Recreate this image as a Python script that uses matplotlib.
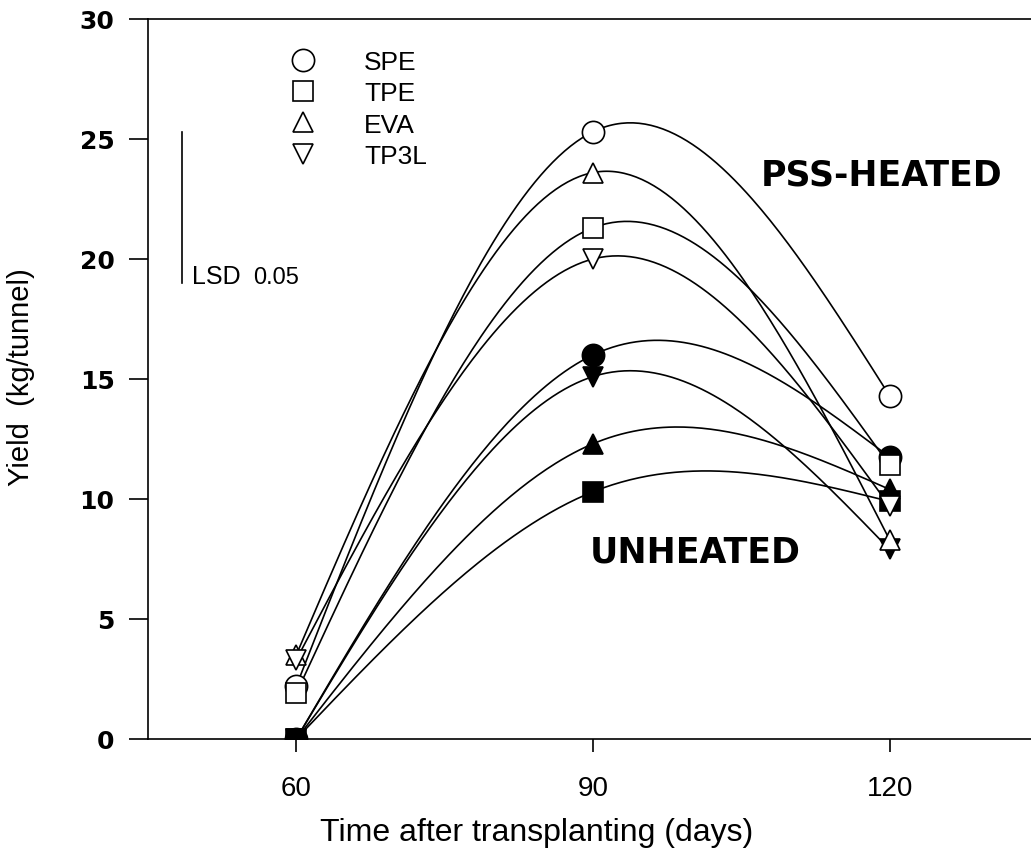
# yield of tunnel crops under four plastic films, heated vs unheated
import numpy as np
import matplotlib
matplotlib.use("Agg")
import matplotlib.pyplot as plt
from matplotlib.lines import Line2D

days = [60, 90, 120]
films = ["SPE", "TPE", "EVA", "TP3L"]
film_markers = ["o", "s", "^", "v"]
film_sizes = [16, 14, 15, 15]

# PSS-heated tunnels (open symbols)
heated_spe = [2.2, 25.3, 14.3]
heated_tpe = [1.9, 21.3, 11.4]
heated_eva = [3.5, 23.6, 8.3]
heated_tp3l = [3.3, 20.0, 9.7]

# unheated tunnels (filled symbols)
unheated_spe = [0.0, 16.0, 11.75]
unheated_tpe = [0.0, 10.3, 9.9]
unheated_eva = [0.0, 12.3, 10.4]
unheated_tp3l = [0.0, 15.1, 7.9]

lsd_base = 19.0
lsd_value = 6.3


def natural_spline(x, y, num=200):
    # natural cubic spline through the points (like SigmaPlot spline curve)
    x = np.asarray(x, float)
    y = np.asarray(y, float)
    n = len(x)
    h = np.diff(x)
    A = np.zeros((n, n))
    r = np.zeros(n)
    A[0, 0] = A[-1, -1] = 1
    for i in range(1, n - 1):
        A[i, i - 1] = h[i - 1]
        A[i, i] = 2 * (h[i - 1] + h[i])
        A[i, i + 1] = h[i]
        r[i] = 6 * ((y[i + 1] - y[i]) / h[i] - (y[i] - y[i - 1]) / h[i - 1])
    M = np.linalg.solve(A, r)
    xs = np.linspace(x[0], x[-1], num)
    idx = np.clip(np.searchsorted(x, xs) - 1, 0, n - 2)
    x0, x1 = x[idx], x[idx + 1]
    hh = x1 - x0
    a = (x1 - xs) / hh
    b = (xs - x0) / hh
    ys = a * y[idx] + b * y[idx + 1] + ((a ** 3 - a) * M[idx] + (b ** 3 - b) * M[idx + 1]) * hh ** 2 / 6
    return xs, ys


heated = [heated_spe, heated_tpe, heated_eva, heated_tp3l]
unheated = [unheated_spe, unheated_tpe, unheated_eva, unheated_tp3l]

fig = plt.figure(figsize=(10.31, 8.54), dpi=100)
ax = fig.add_axes([0.1435, 0.1335, 0.8565, 0.8431])

for vals, mk, ms in zip(unheated, film_markers, film_sizes):
    xs, ys = natural_spline(days, vals)
    ax.plot(xs, ys, color="black", lw=1.2, zorder=2)
    ax.plot(days, vals, ls="none", marker=mk, ms=ms, mfc="black", mec="black", mew=1.2, zorder=3)

for vals, mk, ms in zip(heated, film_markers, film_sizes):
    xs, ys = natural_spline(days, vals)
    ax.plot(xs, ys, color="black", lw=1.2, zorder=2)
    ax.plot(days, vals, ls="none", marker=mk, ms=ms, mfc="white", mec="black", mew=1.2, zorder=4)

# LSD bar
ax.plot([48.4, 48.4], [lsd_base, lsd_base + lsd_value], color="black", lw=1.2)
ax.text(49.5, lsd_base, "LSD", fontsize=18, family="Liberation Sans", ha="left", va="baseline")
ax.text(55.6, lsd_base, "0.05", fontsize=17, family="Liberation Sans", ha="left", va="baseline")

ax.text(119.2, 23.5, "PSS-HEATED", fontsize=25, fontweight="bold", family="DejaVu Sans",
        ha="center", va="center")
ax.text(100.3, 7.8, "UNHEATED", fontsize=25, fontweight="bold", family="DejaVu Sans",
        ha="center", va="center")

handles = [Line2D([], [], ls="none", marker=mk, ms=ms, mfc="white", mec="black", mew=1.2)
           for mk, ms in zip(film_markers, film_sizes)]
ax.legend(handles, films, loc="upper left", bbox_to_anchor=(0.161, 0.957), frameon=False,
          borderpad=0, borderaxespad=0, handlelength=1.0, handletextpad=1.8, labelspacing=0.28,
          prop={"family": "Liberation Sans", "size": 19})

ax.set_xlim(45, 134.3)
ax.set_ylim(0, 30)
ax.set_xticks(days)
ax.set_yticks(range(0, 31, 5))
ax.spines["right"].set_visible(False)
for s in ["left", "bottom", "top"]:
    ax.spines[s].set_linewidth(1.2)
ax.tick_params(axis="y", direction="out", length=14, width=1.2, pad=10)
ax.tick_params(axis="x", direction="out", length=9, width=1.2, pad=17)
ax.tick_params(top=False, right=False)
for lab in ax.get_yticklabels():
    lab.set_fontfamily("DejaVu Sans")
    lab.set_fontweight("bold")
    lab.set_fontsize(18)
for lab in ax.get_xticklabels():
    lab.set_fontfamily("Liberation Sans")
    lab.set_fontsize(20)

ax.set_xlabel("Time after transplanting (days)", fontsize=23, family="Liberation Sans")
ax.xaxis.set_label_coords(0.4405, -0.108)
ax.set_ylabel("Yield  (kg/tunnel)", fontsize=21, family="Liberation Sans")
ax.yaxis.set_label_coords(-0.128, 0.504)

plt.savefig("out.png", dpi=100)
plt.close()
